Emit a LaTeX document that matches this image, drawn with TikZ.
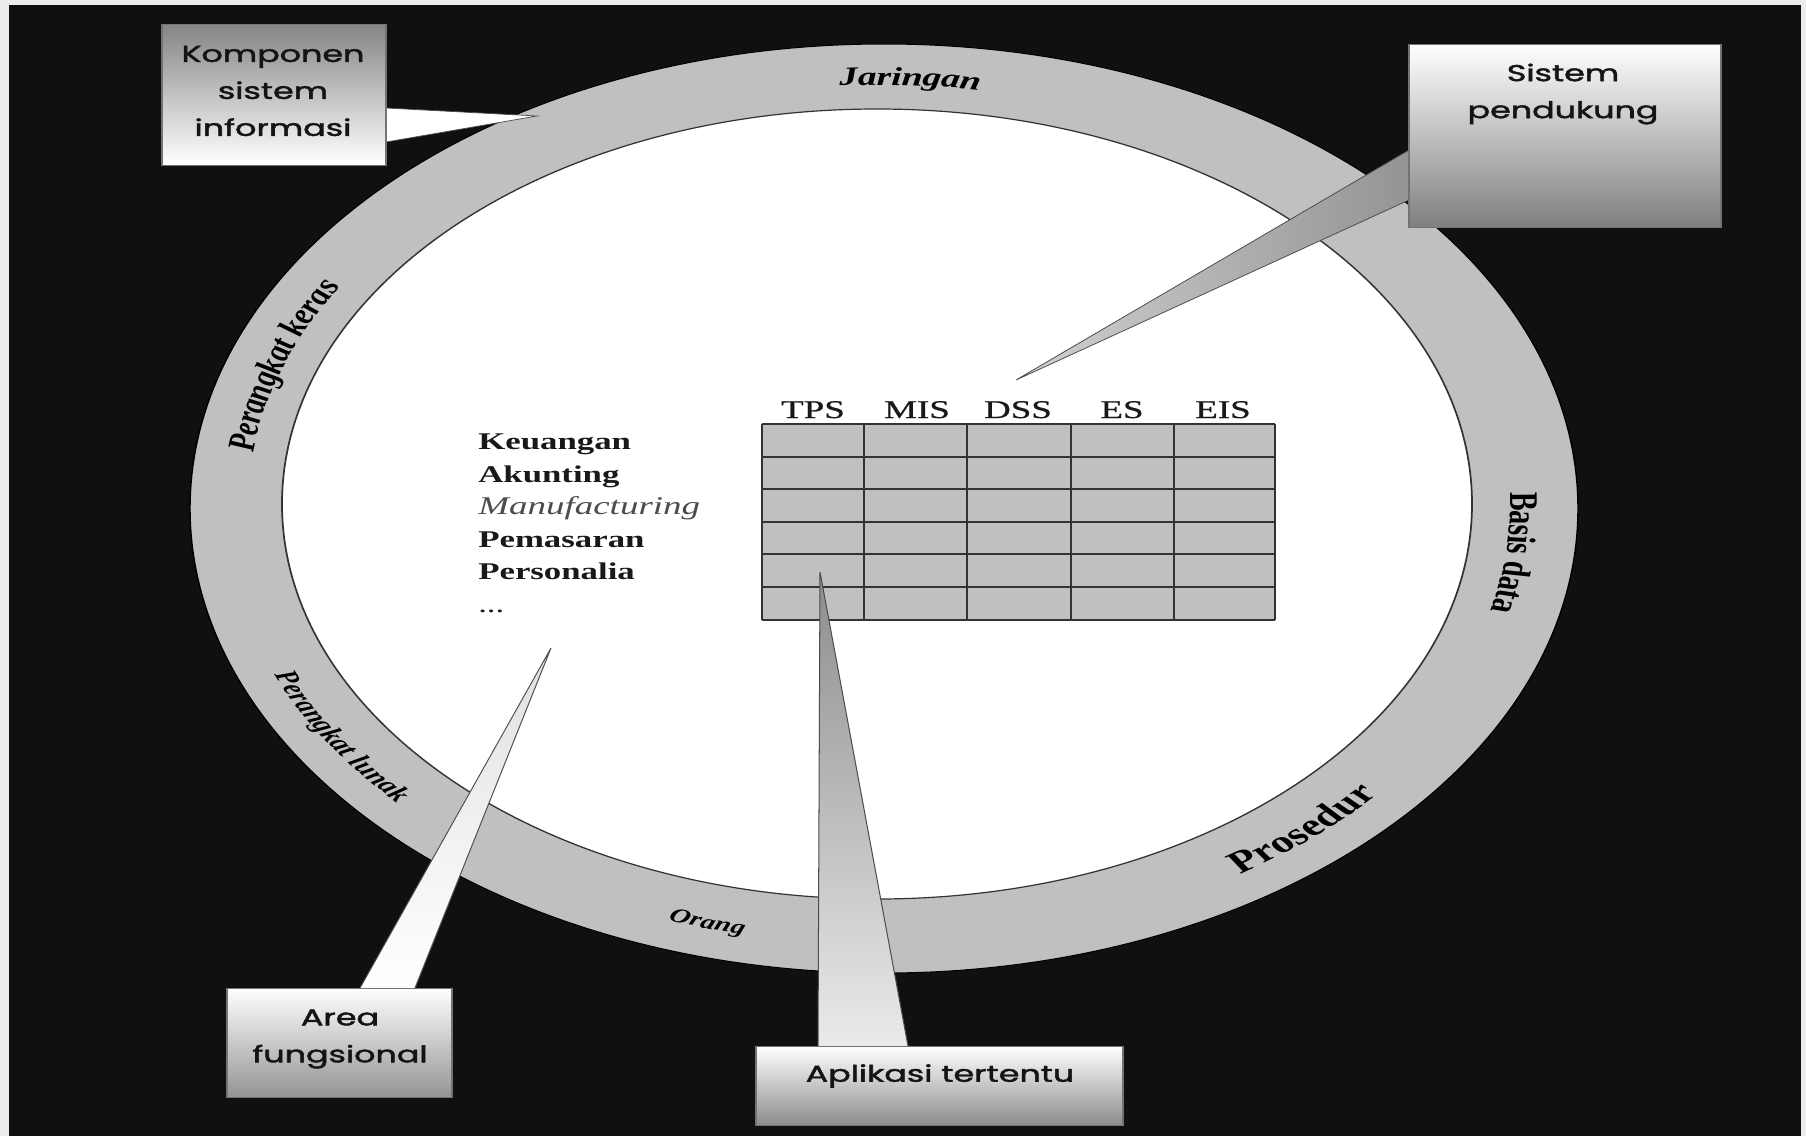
\documentclass[tikz,border=0pt]{standalone}
\usepackage{fontspec}
\setmainfont{Liberation Serif}
\newfontfamily\callfont{Poppins}[FakeBold=1.6]
\newfontfamily\headfont{Liberation Serif}[FakeBold=0.6]
\usetikzlibrary{decorations.text}
\definecolor{bgdark}{HTML}{101010}
\definecolor{ringgray}{HTML}{C0C0C0}
\definecolor{cellgray}{HTML}{C0C0C0}
\tikzset{
  calltext/.style={font=\callfont\fontsize{23}{37}\selectfont, text=black!92, inner sep=0pt, align=center},
  listtext/.style={font=\bfseries\fontsize{24}{28}\selectfont, anchor=base west, inner sep=0pt, text=black!90},
  headtext/.style={font=\headfont\fontsize{25.5}{28}\selectfont, anchor=base, inner sep=0pt, text=black!90},
  gridline/.style={draw=black!80, line width=1.2pt},
  callbox/.style={draw=black!55, line width=0.8pt},
  pointerline/.style={draw=black!70, line width=0.7pt},
}
\begin{document}
\begin{tikzpicture}[x=1pt,y=-1pt]
\useasboundingbox (0,0) rectangle (1806,1136);
\fill[black!7] (0,0) rectangle (1806,1136);
\fill[bgdark] (9,5) rectangle (1801,1136);
\begin{scope}[transform canvas={xscale=1.45}, x={(0.689655pt,0pt)}]
  % ring
  \filldraw[fill=ringgray, draw=black, line width=1pt] (884,508.5) ellipse[x radius=694, y radius=464.5];
  \filldraw[fill=white, draw=black!80, line width=1.2pt] (877,504) ellipse[x radius=595, y radius=395];

  % ring labels (clockwise: outward tops)
  \path[decorate, decoration={text along path, text align=center, raise=-9pt,
      text={|\bfseries\itshape\fontsize{26}{30}\selectfont|Jaringan}}]
      ([shift={(252.7:645 and 430)}]880,506) arc[start angle=252.7, end angle=292.7, x radius=645, y radius=430];
  \path[decorate, decoration={text along path, text align=center, raise=-9pt,
      text={|\bfseries\itshape\fontsize{27}{30}\selectfont|Perangkat keras}}]
      ([shift={(169.3:645 and 430)}]880,506) arc[start angle=169.3, end angle=229.3, x radius=645, y radius=430];
  \path[decorate, decoration={text along path, text align=center, raise=-10pt,
      text={|\bfseries\fontsize{28}{32}\selectfont|Basis data}}]
      ([shift={(-18.7:645 and 430)}]880,506) arc[start angle=-18.7, end angle=31.3, x radius=645, y radius=430];
  % ring labels (counter-clockwise: inward tops)
  \path[decorate, decoration={text along path, text align=center, raise=-10pt,
      text={|\bfseries\fontsize{31}{35}\selectfont|Prosedur}}]
      ([shift={(78.7:645 and 430)}]880,506) arc[start angle=78.7, end angle=18.7, x radius=645, y radius=430];
  \path[decorate, decoration={text along path, text align=center, raise=-8pt,
      text={|\bfseries\itshape\fontsize{20}{24}\selectfont|Orang}}]
      ([shift={(125.5:645 and 430)}]880,506) arc[start angle=125.5, end angle=85.5, x radius=645, y radius=430];
  \path[decorate, decoration={text along path, text align=center, raise=-8pt,
      text={|\bfseries\itshape\fontsize{22}{26}\selectfont|Perangkat lunak}}]
      ([shift={(177.5:645 and 430)}]880,506) arc[start angle=177.5, end angle=117.5, x radius=645, y radius=430];

  % table
  \fill[cellgray] (762,424) rectangle (1275,620);
  \foreach \xx in {762,864,967,1071,1174,1275} \draw[gridline] (\xx,424) -- (\xx,620);
  \foreach \yy in {424,457,489,522,554,587,620} \draw[gridline] (762,\yy) -- (1275,\yy);
  \node[headtext] (tps) at (813,418) {TPS};
  \node[headtext] (mis) at (917,418) {MIS};
  \node[headtext] (dss) at (1018,418) {DSS};
  \node[headtext] (es)  at (1122,418) {ES};
  \node[headtext] (eis) at (1223,418) {EIS};

  % functional areas list
  \node[listtext] (keu) at (478,449) {Keuangan};
  \node[listtext] (aku) at (478,482) {Akunting};
  \node[listtext, font=\itshape\fontsize{25.5}{28}\selectfont, text=black!70] (man) at (478,514) {Manufacturing};
  \node[listtext] (pem) at (478,547) {Pemasaran};
  \node[listtext] (per) at (478,579) {Personalia};
  \node[listtext, font=\fontsize{24}{28}\selectfont] (dots) at (478,612) {...};

  % tips of the callout pointers
  \coordinate (tipkomp) at (537,116);
  \coordinate (tipsist) at (1016,380);
  \coordinate (tiparea) at (551,648);
  \coordinate (tipapl)  at (820,572);

  % pointers
  \filldraw[pointerline, fill=white] (386,108) -- (tipkomp) -- (386,142) -- cycle;
  \shade[left color=black!18, right color=black!42] (1409,150) -- (tipsist) -- (1409,200) -- cycle;
  \draw[pointerline] (1409,150) -- (tipsist) -- (1409,200);
  \shade[top color=black!12, middle color=black!50, bottom color=white] (360,988) -- (tiparea) -- (415,988) -- cycle;
  \draw[pointerline] (360,988) -- (tiparea) -- (415,988);
  \shade[top color=black!45, middle color=white, bottom color=black!8] (818,1046) -- (tipapl) -- (908,1046) -- cycle;
  \draw[pointerline] (818,1046) -- (tipapl) -- (908,1046);

  % callout boxes
  \shade[callbox, top color=black!48, bottom color=white] (162,24) rectangle (386,165);
  \shade[callbox, top color=white, bottom color=black!50] (1409,44) rectangle (1721,227);
  \shade[callbox, top color=white, bottom color=black!42] (227,988) rectangle (452,1097);
  \shade[callbox, top color=white, bottom color=black!45] (756,1046) rectangle (1123,1125);

  \node[calltext] (komp) at (273,91) {Komponen\\sistem\\informasi};
  \node[calltext] (sist) at (1563,94) {Sistem\\pendukung};
  \node[calltext] (area) at (340,1039) {Area\\fungsional};
  \node[calltext] (apl)  at (940,1076) {Aplikasi tertentu};
\end{scope}
\end{tikzpicture}
\end{document}
